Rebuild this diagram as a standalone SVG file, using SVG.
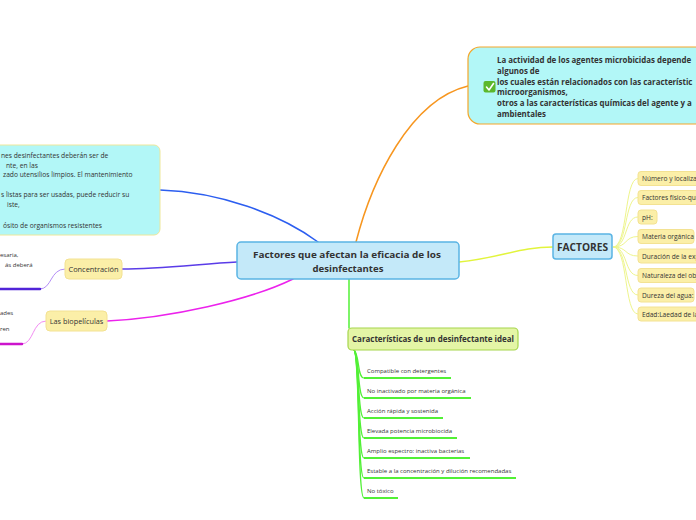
<svg xmlns="http://www.w3.org/2000/svg" width="696" height="520" viewBox="0 0 696 520">
<style>
text{font-family:"Open Sans","Noto Sans","Liberation Sans",sans-serif;fill:#333}
.b{font-weight:bold}
.blue{fill:#c4e9f9;stroke:#5ab4e4;stroke-width:1.5}
.cyan{fill:#b2f7f7}
.yel{fill:#fbefa8;stroke:#f3e292;stroke-width:1}
.grn{fill:#e4f5a6;stroke:#a6d64c;stroke-width:1.2}
.c{fill:none;stroke-linecap:round}
.fan{fill:none;stroke:#eef58c;stroke-width:1}
.gl{fill:none;stroke:#52f036;stroke-width:1.2}
.gu{fill:none;stroke:#52f036;stroke-width:2}
.sm{font-size:6px}
.fi{font-size:6.6px}
.lt{font-size:6.7px}
.tr{font-size:7.9px;font-weight:bold}
</style>
<rect width="696" height="520" fill="#ffffff"/>
<g id="connectors">
<path class="c" d="M356,242 C372,180 410,100 468,86" stroke="#f7961f" stroke-width="1.5"/>
<path class="c" d="M318,242 C280,214 220,192 160,190" stroke="#2c5ef0" stroke-width="1.5"/>
<path class="c" d="M237,262 C200,264 160,269 122,269" stroke="#5a3ce8" stroke-width="1.5"/>
<path class="c" d="M65,269 C50,269 52,289 40,289" stroke="#b48ef6" stroke-width="1"/>
<path class="c" d="M40,289 L-2,289" stroke="#5124d8" stroke-width="2.5"/>
<path class="c" d="M293,279 C250,300 170,318 107,321" stroke="#ec22ec" stroke-width="1.5"/>
<path class="c" d="M46,321 C32,321 34,344 22,344" stroke="#f28cf2" stroke-width="1"/>
<path class="c" d="M22,344 L-2,344" stroke="#cc14cc" stroke-width="2.5"/>
<path class="c" d="M459,262 C500,258 520,247 553,247" stroke="#e2f43c" stroke-width="1.5"/>
<path class="fan" d="M613,247 C628,247 624,178.5 638,178.5"/>
<path class="fan" d="M613,247 C628,247 624,197.5 638,197.5"/>
<path class="fan" d="M613,247 C628,247 624,217 638,217"/>
<path class="fan" d="M613,247 C628,247 624,236.5 638,236.5"/>
<path class="fan" d="M613,247 C628,247 624,256 638,256"/>
<path class="fan" d="M613,247 C628,247 624,275.5 638,275.5"/>
<path class="fan" d="M613,247 C628,247 624,295 638,295"/>
<path class="fan" d="M613,247 C628,247 624,314 638,314"/>
<path class="c" d="M349,279 L349,328" stroke="#52f036" stroke-width="1.5"/>
<path class="gl" d="M354,350 C360,355 357,378 364,378"/>
<path class="gl" d="M354,350 C360,355 357,398 364,398"/>
<path class="gl" d="M354,350 C360,355 357,418 364,418"/>
<path class="gl" d="M354,350 C360,355 357,438 364,438"/>
<path class="gl" d="M354,350 C360,355 357,458 364,458"/>
<path class="gl" d="M354,350 C360,355 357,478 364,478"/>
<path class="gl" d="M354,350 C360,355 357,498 364,498"/>
<path class="gu" d="M364,378 L451,378"/>
<path class="gu" d="M364,398 L471,398"/>
<path class="gu" d="M364,418 L443,418"/>
<path class="gu" d="M364,438 L457,438"/>
<path class="gu" d="M364,458 L470,458"/>
<path class="gu" d="M364,478 L516,478"/>
<path class="gu" d="M364,498 L398,498"/>
</g>
<g id="central">
<rect class="blue" x="237" y="242" width="222" height="37" rx="4"/>
<text class="b" x="253" y="257.5" font-size="9.6" textLength="188" lengthAdjust="spacingAndGlyphs">Factores que afectan la eficacia de los</text>
<text class="b" x="348" y="271.5" text-anchor="middle" font-size="9.6">desinfectantes</text>
</g>
<g id="actividad">
<rect class="cyan" x="468" y="47" width="300" height="77" rx="12" stroke="#f5a62a" stroke-width="1.2"/>
<rect x="483.5" y="81" width="12" height="11.5" rx="2" fill="#5cb82c"/>
<path d="M486.5,87 L489,90 L493.5,83.5" fill="none" stroke="#ffffff" stroke-width="1.6" stroke-linecap="round" stroke-linejoin="round"/>
<text class="tr" x="497" y="62.5">La actividad de los agentes microbicidas depende</text>
<text class="tr" x="497" y="73.5">algunos de</text>
<text class="tr" x="497" y="84.5">los cuales están relacionados con las característic</text>
<text class="tr" x="497" y="95">microorganismos,</text>
<text class="tr" x="497" y="106">otros a las características químicas del agente y a</text>
<text class="tr" x="497" y="117">ambientales</text>
</g>
<g id="limpieza">
<rect class="cyan" x="-20" y="145" width="180" height="90" rx="6" stroke="#eee79a" stroke-width="1"/>
<text class="lt" x="1" y="158">nes desinfectantes deberán ser de</text>
<text class="lt" x="6" y="167.5">nte, en las</text>
<text class="lt" x="3" y="177">zado utensilios limpios. El mantenimiento</text>
<text class="lt" x="1" y="197">s listas para ser usadas, puede reducir su</text>
<text class="lt" x="7" y="207">iste,</text>
<text class="lt" x="3" y="227.5">ósito de organismos resistentes</text>
</g>
<g id="concentracion">
<rect class="yel" x="65" y="259" width="57" height="20" rx="4"/>
<text x="93.5" y="271.5" text-anchor="middle" font-size="7.4">Concentración</text>
<text class="sm" x="0" y="257">esaria,</text>
<text class="sm" x="5" y="267">ás deberá</text>
</g>
<g id="biopeliculas">
<rect class="yel" x="46" y="311" width="61" height="20" rx="4"/>
<text x="76.5" y="323.5" text-anchor="middle" font-size="7.3">Las biopelículas</text>
<text class="sm" x="0" y="315">ades</text>
<text class="sm" x="0" y="331">ren</text>
</g>
<g id="factores">
<rect class="blue" x="553" y="234" width="59" height="25" rx="3"/>
<text class="b" x="582.5" y="251" text-anchor="middle" font-size="10.2">FACTORES</text>
</g>
<g id="f1"><rect class="yel" x="638" y="171.5" width="70" height="14" rx="3"/><text class="fi" x="642" y="181">Número y localizació</text></g>
<g id="f2"><rect class="yel" x="638" y="190.5" width="70" height="14" rx="3"/><text class="fi" x="642" y="200">Factores físico-quím</text></g>
<g id="f3"><rect class="yel" x="638" y="210" width="19" height="14" rx="3"/><text class="fi" x="642" y="219.5">pH:</text></g>
<g id="f4"><rect class="yel" x="638" y="229.5" width="56" height="14" rx="3"/><text class="fi" x="642" y="239">Materia orgánica</text></g>
<g id="f5"><rect class="yel" x="638" y="249" width="70" height="14" rx="3"/><text class="fi" x="642" y="258.5">Duración de la expo</text></g>
<g id="f6"><rect class="yel" x="638" y="268.5" width="70" height="14" rx="3"/><text class="fi" x="642" y="278">Naturaleza del obje</text></g>
<g id="f7"><rect class="yel" x="638" y="288" width="56" height="14" rx="3"/><text class="fi" x="642" y="297.5">Dureza del agua:</text></g>
<g id="f8"><rect class="yel" x="638" y="307" width="70" height="14" rx="3"/><text class="fi" x="642" y="316.5">Edad:Laedad de la s</text></g>
<g id="caracteristicas">
<rect class="grn" x="348" y="328" width="170" height="22" rx="4"/>
<text class="b" x="352" y="342" font-size="8" textLength="162" lengthAdjust="spacingAndGlyphs">Características de un desinfectante ideal</text>
</g>
<g id="c1"><text class="sm" x="367" y="373">Compatible con detergentes</text></g>
<g id="c2"><text class="sm" x="367" y="393">No inactivado por materia orgánica</text></g>
<g id="c3"><text class="sm" x="367" y="413">Acción rápida y sostenida</text></g>
<g id="c4"><text class="sm" x="367" y="433">Elevada potencia microbiocida</text></g>
<g id="c5"><text class="sm" x="367" y="453">Amplio espectro: inactiva bacterias</text></g>
<g id="c6"><text class="sm" x="367" y="473">Estable a la concentración y dilución recomendadas</text></g>
<g id="c7"><text class="sm" x="367" y="493">No tóxico</text></g>
</svg>
